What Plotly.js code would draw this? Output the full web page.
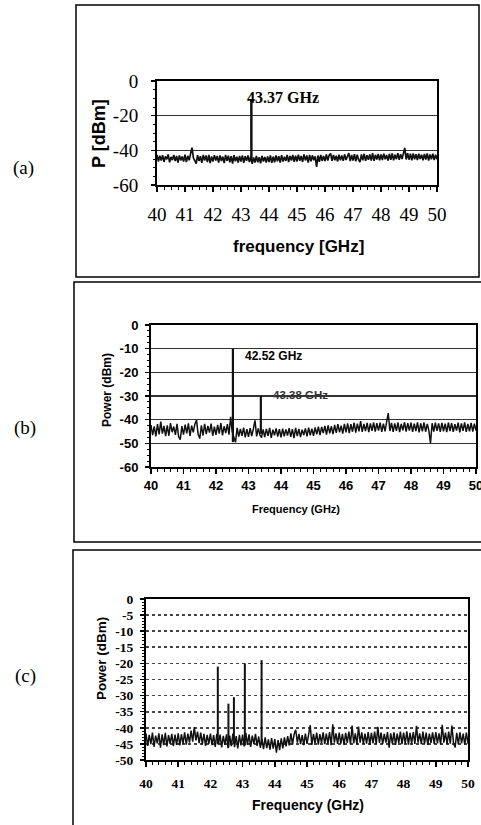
<!DOCTYPE html>
<html><head><meta charset="utf-8">
<script src="https://cdn.plot.ly/plotly-3.0.1.min.js"></script>
<style>html,body{margin:0;padding:0;background:#fff}#c{width:481px;height:825px}</style>
</head><body><div id="c"></div>
<script>
// ---------- data ----------
const freqStart = 40, freqStep = 0.05;           // GHz sweep of the analyser traces
const xTicks = [40,41,42,43,44,45,46,47,48,49,50];

// (a) single tone
const noiseA = [
-42.6,-46.4,-43.1,-45.9,-42.8,-46.7,-43.5,-45.2,-42.4,-46.9,-43.8,-45.6,-42.7,-46.2,-43.3,-47.0,-42.9,-45.8,-43.6,-46.5,
-42.5,-46.8,-43.2,-45.7,-41.9,-38.5,-44.3,-46.6,-47.6,-42.8,-46.1,-43.4,-47.2,-42.6,-45.9,-43.0,-46.8,-42.7,-47.3,-43.5,
-46.4,-42.8,-45.9,-43.3,-47.1,-42.9,-46.2,-43.6,-47.4,-42.7,-46.0,-43.1,-46.9,-43.4,-47.6,-42.8,-46.3,-43.7,-47.0,-43.2,
-46.5,-42.9,-47.2,-43.4,-46.0,-43.0,-46.8,-43.6,-47.8,-44.1,-47.0,-43.3,-46.9,-44.0,-47.5,-43.2,-46.4,-43.8,-47.1,-43.5,
-46.7,-43.0,-47.2,-43.6,-46.9,-42.9,-46.3,-43.4,-47.0,-42.8,-46.5,-43.7,-46.1,-42.6,-46.8,-43.3,-45.9,-42.7,-46.6,-43.1,
-46.4,-42.5,-46.0,-43.2,-46.7,-42.4,-45.8,-43.0,-47.1,-42.6,-46.3,-42.9,-45.7,-43.5,-49.5,-43.0,-46.6,-42.7,-46.1,-43.3,
-46.2,-42.4,-45.9,-42.8,-41.8,-46.0,-42.6,-45.7,-43.1,-46.4,-42.5,-45.8,-42.9,-46.1,-42.3,-45.6,-43.0,-41.6,-46.2,-42.7,
-45.9,-42.2,-46.3,-42.5,-45.4,-46.8,-42.4,-45.7,-42.0,-46.1,-42.8,-45.5,-42.3,-45.9,-41.7,-46.0,-42.6,-45.3,-42.1,-45.8,
-42.4,-45.6,-41.9,-45.2,-42.7,-45.9,-42.0,-45.4,-41.8,-45.7,-42.5,-45.1,-41.6,-45.5,-42.2,-45.0,-41.9,-38.6,-45.3,-41.7,
-45.4,-42.0,-45.8,-41.8,-45.2,-42.3,-45.6,-41.9,-45.0,-42.5,-45.7,-42.1,-45.3,-41.8,-45.9,-42.4,-45.1,-42.0,-45.6,-42.6,-45.2];
const peakFreqA = [43.37];
const peakTopA  = [-11];
const peakBaseA = [-46];
const peakLabelA = ["43.37 GHz"];

// (b) two tones
const noiseB = [
-42.3,-46.5,-42.8,-47.1,-41.9,-46.2,-40.8,-45.9,-42.6,-47.0,-42.4,-46.8,-41.5,-45.3,-42.9,-46.4,-41.8,-47.2,-48.4,-42.7,
-46.3,-42.1,-45.8,-41.6,-46.9,-42.5,-45.4,-41.9,-40.1,-46.2,-48.0,-42.4,-46.7,-41.8,-46.1,-42.6,-45.5,-41.7,-46.8,-42.9,
-46.4,-42.2,-45.9,-41.4,-46.6,-42.8,-45.7,-41.9,-46.3,-38.8,-45.2,-47.0,-49.6,-43.5,-47.2,-43.9,-46.8,-43.4,-47.5,-44.0,
-47.3,-43.6,-46.9,-43.8,-40.3,-47.1,-43.7,-46.5,-47.6,-44.1,-47.4,-43.9,-46.8,-43.5,-47.7,-44.2,-46.6,-43.7,-47.2,-44.0,
-47.5,-43.8,-47.0,-44.1,-46.7,-43.6,-47.3,-44.0,-47.8,-43.5,-46.9,-43.9,-47.4,-44.2,-46.5,-43.7,-47.1,-43.4,-46.6,-43.8,
-46.8,-43.3,-46.2,-42.9,-46.5,-43.1,-45.7,-42.6,-46.3,-42.4,-45.8,-42.8,-46.1,-42.2,-45.6,-41.9,-45.3,-42.5,-45.9,-41.8,
-45.4,-41.6,-45.7,-41.9,-45.1,-41.3,-45.5,-41.7,-44.9,-40.6,-45.2,-41.8,-44.8,-41.4,-45.3,-41.6,-44.7,-41.2,-45.0,-41.5,
-44.6,-41.3,-45.2,-41.7,-44.9,-41.0,-37.2,-44.8,-41.4,-45.1,-41.6,-44.7,-41.2,-45.3,-41.8,-44.5,-41.1,-45.0,-41.5,-44.6,
-41.3,-45.2,-41.7,-44.8,-41.1,-45.4,-41.6,-44.9,-41.2,-45.1,-41.8,-44.6,-49.9,-41.5,-45.0,-41.3,-44.7,-41.6,-45.2,-41.4,
-44.9,-41.7,-45.3,-41.2,-44.8,-41.5,-45.1,-41.9,-44.6,-41.3,-45.4,-41.6,-44.7,-41.1,-45.2,-41.8,-44.9,-41.4,-45.0,-41.7,-44.6];
const peakFreqB = [42.52, 43.38];
const peakTopB  = [-10, -30];
const peakBaseB = [-49.5, -46];
const peakLabelB = ["42.52 GHz", "43.38 GHz"];

// (c) multiple tones
const noiseC = [
-41.8,-45.6,-42.2,-45.1,-41.5,-45.9,-42.4,-44.8,-41.7,-46.2,-42.0,-45.4,-41.6,-45.8,-42.3,-45.0,-41.9,-45.7,-42.1,-45.3,
-41.7,-45.5,-42.0,-44.9,-41.4,-45.2,-41.8,-44.6,-40.9,-44.3,-39.8,-43.9,-41.2,-44.8,-41.5,-45.1,-41.9,-45.6,-42.2,-45.0,
-41.8,-45.4,-42.3,-45.9,-41.9,-45.2,-42.1,-46.1,-42.5,-45.3,-42.0,-46.3,-42.4,-45.7,-41.8,-46.0,-42.6,-46.4,-42.2,-45.5,
-42.1,-45.8,-41.6,-45.3,-42.0,-45.9,-42.4,-45.1,-41.9,-45.6,-42.7,-46.2,-43.4,-46.6,-43.0,-46.3,-43.6,-46.8,-43.2,-46.5,
-43.5,-47.7,-43.8,-46.9,-43.3,-46.4,-43.0,-45.8,-42.6,-45.5,-41.7,-45.2,-42.0,-40.6,-44.6,-41.9,-45.1,-42.3,-45.4,-41.8,
-45.0,-41.6,-39.2,-45.3,-41.9,-44.8,-41.5,-45.2,-42.0,-44.7,-41.4,-45.1,-41.8,-44.9,-41.3,-45.4,-38.9,-44.6,-41.7,-45.0,
-41.5,-44.9,-41.9,-45.3,-41.6,-44.7,-41.2,-45.1,-39.3,-44.8,-41.7,-45.2,-39.6,-44.6,-41.4,-45.0,-41.8,-44.9,-41.3,-45.2,
-41.6,-44.8,-41.2,-45.1,-39.7,-44.7,-41.5,-45.0,-41.9,-44.6,-41.3,-46.2,-41.7,-44.9,-41.4,-45.3,-41.8,-44.7,-41.2,-45.1,
-41.5,-44.9,-41.1,-45.2,-41.6,-44.8,-41.3,-45.0,-39.4,-44.6,-41.7,-45.1,-41.2,-44.9,-41.5,-45.3,-41.8,-44.7,-41.4,-45.0,
-41.3,-44.8,-41.7,-45.2,-39.1,-44.6,-41.5,-45.0,-41.2,-44.9,-39.3,-44.7,-46.1,-41.6,-45.1,-41.4,-44.8,-41.8,-45.2,-41.5,-44.9];
const peakFreqC = [42.23, 42.56, 42.73, 43.07, 43.59];
const peakTopC  = [-21, -32.5, -30.5, -20, -19];
const peakBaseC = [-45, -46, -45, -45.5, -45];

const yTicksA = [0,-20,-40,-60];
const yTicksB = [0,-10,-20,-30,-40,-50,-60];
const yTicksC = [0,-5,-10,-15,-20,-25,-30,-35,-40,-45,-50];

// ---------- helpers ----------
const W = 481, H = 825;
const px = v => v / W;
const py = v => 1 - v / H;
function stems(f, top, base){
  const x=[], y=[];
  f.forEach((v,i)=>{ x.push(v,v,null); y.push(base[i], top[i], null); });
  return {x, y};
}
const sA = stems(peakFreqA, peakTopA, peakBaseA);
const sB = stems(peakFreqB, peakTopB, peakBaseB);
const sC = stems(peakFreqC, peakTopC, peakBaseC);

const serif = 'Liberation Serif, Times New Roman, serif';
const sans = 'Liberation Sans, Arial, sans-serif';

const traces = [
  {x0:freqStart, dx:freqStep, y:noiseA, type:'scatter', mode:'lines', line:{color:'#111', width:1.7}, xaxis:'x', yaxis:'y'},
  {x:sA.x, y:sA.y, type:'scatter', mode:'lines', line:{color:'#111', width:2.5}, xaxis:'x', yaxis:'y'},
  {x0:freqStart, dx:freqStep, y:noiseB, type:'scatter', mode:'lines', line:{color:'#111', width:1.5}, xaxis:'x2', yaxis:'y2'},
  {x:sB.x, y:sB.y, type:'scatter', mode:'lines', line:{color:'#111', width:2.2}, xaxis:'x2', yaxis:'y2'},
  {x0:freqStart, dx:freqStep, y:noiseC, type:'scatter', mode:'lines', line:{color:'#111', width:1.5}, xaxis:'x3', yaxis:'y3'},
  {x:sC.x, y:sC.y, type:'scatter', mode:'lines', line:{color:'#111', width:2}, xaxis:'x3', yaxis:'y3'}
];

function xax(dom, anchor, font, minorDt, standoff){
  return {domain:[px(dom[0]), px(dom[1])], anchor, range:[40,50], tickvals:xTicks, ticktext:xTicks.map(String),
    showline:true, linecolor:'#000', linewidth:2, mirror:true, showgrid:false, zeroline:false,
    ticks:'outside', ticklen:5, tickwidth:1.5, tickcolor:'#000', tickfont:font, ticklabelstandoff:standoff,
    ticklabeloverflow:'allow',
    minor:{dtick:minorDt, ticks:'outside', ticklen:3, tickcolor:'#000', tickwidth:1, showgrid:false}, fixedrange:true};
}
function yax(dom, anchor, range, tv, font, grid, gw, dash, minorDt, standoff){
  return {domain:[py(dom[1]), py(dom[0])], anchor, range, tickvals:tv, ticktext:tv.map(String),
    showline:true, linecolor:'#000', linewidth:2, mirror:true, showgrid:true, gridcolor:grid, gridwidth:gw, griddash:dash,
    zeroline:false, ticks:'outside', ticklen:4, tickwidth:1.5, tickcolor:'#000', tickfont:font, ticklabelstandoff:standoff,
    minor:{dtick:minorDt, ticks:'outside', ticklen:2, tickcolor:'#000', tickwidth:1, showgrid:false}, fixedrange:true};
}

const fontA = {family:serif, size:19, color:'#000'};
const fontB = {family:sans, size:13, color:'#000', weight:'bold'};
const fontC = {family:serif, size:13.5, color:'#000', weight:'bold'};

function label(x, y, text, font, angle){
  return {xref:'paper', yref:'paper', x:px(x), y:py(y), xanchor:'center', yanchor:'middle', text, showarrow:false, font, textangle:angle||0};
}

const layout = {
  width:W, height:H, margin:{l:0,r:0,t:0,b:0}, paper_bgcolor:'#fff', plot_bgcolor:'#fff', showlegend:false,
  xaxis: xax([157,437],'y', fontA, 0.25, 6),
  yaxis: yax([81,185],'x',[-60,0], yTicksA, fontA, '#333', 1.5, 'solid', 5, 9),
  xaxis2: xax([151,476],'y2', fontB, 0.2, 0),
  yaxis2: yax([325,467],'x2',[-60,0], yTicksB, fontB, '#333', 1.5, 'solid', 2.5, 4),
  xaxis3: xax([146,468],'y3', fontC, 0.2, 5),
  yaxis3: yax([599,760],'x3',[-50,0], yTicksC, fontC, '#444', 1.6, 'dot', 1, 4),
  shapes: [
    {type:'rect', xref:'paper', yref:'paper', x0:px(76), x1:px(479), y0:py(277), y1:py(5), line:{color:'#000', width:1.5}},
    {type:'path', xref:'paper', yref:'paper', path:`M ${px(482)} ${py(282)} L ${px(74)} ${py(282)} L ${px(74)} ${py(542)} L ${px(482)} ${py(542)}`, line:{color:'#000', width:1.5}},
    {type:'path', xref:'paper', yref:'paper', path:`M ${px(482)} ${py(550)} L ${px(73)} ${py(550)} L ${px(73)} ${py(826)}`, line:{color:'#000', width:1.5}}
  ],
  annotations: [
    label(23, 168, '(a)', {family:serif, size:19, color:'#000'}),
    label(25, 428, '(b)', {family:serif, size:19, color:'#000'}),
    label(25, 676, '(c)', {family:serif, size:19, color:'#000'}),
    label(298, 247, 'frequency [GHz]', {family:sans, size:17, color:'#000', weight:'bold'}),
    label(99, 134, 'P [dBm]', {family:sans, size:18, color:'#000', weight:'bold'}, -90),
    label(296, 509, 'Frequency (GHz)', {family:sans, size:11, color:'#000', weight:'bold'}),
    label(107, 390, 'Power (dBm)', {family:sans, size:12, color:'#000', weight:'bold'}, -90),
    label(308, 805, 'Frequency (GHz)', {family:sans, size:14, color:'#000', weight:'bold'}),
    label(101, 659, 'Power (dBm)', {family:sans, size:13.5, color:'#000', weight:'bold'}, -90),
    {xref:'x', yref:'y', x:peakFreqA[0]-0.22, y:-9.3, xanchor:'left', yanchor:'middle', text:peakLabelA[0], showarrow:false, font:{family:serif, size:16, color:'#000', weight:'bold'}},
    {xref:'x2', yref:'y2', x:peakFreqB[0]+0.31, y:-13.1, xanchor:'left', yanchor:'middle', text:peakLabelB[0], showarrow:false, font:{family:sans, size:12, color:'#000', weight:'bold'}},
    {xref:'x2', yref:'y2', x:peakFreqB[1]+0.31, y:-29.6, xanchor:'left', yanchor:'middle', text:peakLabelB[1], showarrow:false, font:{family:sans, size:11.5, color:'#333', weight:'bold'}}
  ]
};
Plotly.newPlot('c', traces, layout, {staticPlot:true, displayModeBar:false});
</script></body></html>
